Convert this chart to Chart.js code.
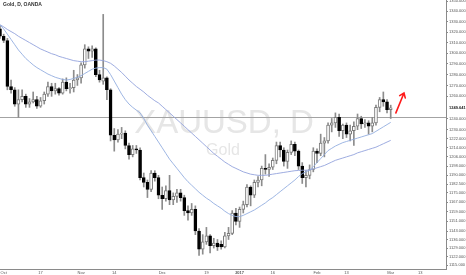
<!DOCTYPE html>
<html>
<head>
<meta charset="utf-8">
<script src="https://cdn.jsdelivr.net/npm/chart.js@4.4.1/dist/chart.umd.min.js"></script>
<style>
  html, body { margin: 0; padding: 0; background: #fff; }
  #wrap { position: relative; width: 466px; height: 275px; }
</style>
</head>
<body>
<div id="wrap"><canvas id="gold"></canvas></div>
<script>
// daily sessions (last ones are empty space on the right of the chart)
const days = [
  'Sep 30',
  'Oct 3', 'Oct 4', 'Oct 5', 'Oct 6', 'Oct 7',
  'Oct 10', 'Oct 11', 'Oct 12', 'Oct 13', 'Oct 14',
  'Oct 17', 'Oct 18', 'Oct 19', 'Oct 20', 'Oct 21',
  'Oct 24', 'Oct 25', 'Oct 26', 'Oct 27', 'Oct 28',
  'Oct 31', 'Nov 1', 'Nov 2', 'Nov 3', 'Nov 4',
  'Nov 7', 'Nov 8', 'Nov 9', 'Nov 10', 'Nov 11',
  'Nov 14', 'Nov 15', 'Nov 16', 'Nov 17', 'Nov 18',
  'Nov 21', 'Nov 22', 'Nov 23', 'Nov 24', 'Nov 25',
  'Nov 28', 'Nov 29', 'Nov 30', 'Dec 1', 'Dec 2',
  'Dec 5', 'Dec 6', 'Dec 7', 'Dec 8', 'Dec 9',
  'Dec 12', 'Dec 13', 'Dec 14', 'Dec 15', 'Dec 16',
  'Dec 19', 'Dec 20', 'Dec 21', 'Dec 22', 'Dec 23',
  'Dec 27', 'Dec 28', 'Dec 29', 'Dec 30',
  'Jan 3', 'Jan 4', 'Jan 5', 'Jan 6',
  'Jan 9', 'Jan 10', 'Jan 11', 'Jan 12', 'Jan 13',
  'Jan 16', 'Jan 17', 'Jan 18', 'Jan 19', 'Jan 20',
  'Jan 23', 'Jan 24', 'Jan 25', 'Jan 26', 'Jan 27',
  'Jan 30', 'Jan 31', 'Feb 1', 'Feb 2', 'Feb 3',
  'Feb 6', 'Feb 7', 'Feb 8', 'Feb 9', 'Feb 10',
  'Feb 13', 'Feb 14', 'Feb 15', 'Feb 16', 'Feb 17',
  'Feb 20', 'Feb 21', 'Feb 22', 'Feb 23', 'Feb 24',
  'Feb 27', 'Feb 28', 'Mar 1', 'Mar 2', 'Mar 3',
  'Mar 6', 'Mar 7', 'Mar 8', 'Mar 9', 'Mar 10',
  'Mar 13', 'Mar 14', 'Mar 15', 'Mar 16', 'Mar 17',
  'Mar 20', 'Mar 21', 'Mar 22'
];

const xTickLabels = {
  'Oct 3': 'Oct', 'Oct 17': '17', 'Nov 1': 'Nov', 'Nov 14': '14',
  'Dec 1': 'Dec', 'Dec 19': '19', 'Jan 3': '2017', 'Jan 16': '16',
  'Feb 1': 'Feb', 'Feb 13': '13', 'Mar 1': 'Mar', 'Mar 13': '13'
};

const yTicks = [1350, 1340, 1330, 1320, 1310, 1300, 1290, 1280, 1270, 1260,
  1240, 1230, 1222, 1214, 1206, 1198, 1190, 1182.5, 1175, 1167,
  1159, 1151, 1143, 1136, 1129, 1122, 1115];

const open = [
  1323, 1316, 1312, 1269, 1266, 1253, 1257, 1260, 1253, 1255,
  1257, 1251, 1256, 1262, 1269, 1265, 1267, 1263, 1273, 1267,
  1268, 1275, 1277, 1289, 1304, 1302, 1304, 1280, 1274, 1277,
  1266, 1225, 1221, 1226, 1227, 1216, 1208, 1213, 1212, 1188,
  1184, 1178, 1192, 1188, 1173, 1170, 1177, 1169, 1172, 1175,
  1171, 1160, 1158, 1161, 1143, 1128, 1134, 1139, 1131, 1133,
  1132, 1130, 1139, 1141, 1158, 1151, 1161, 1165, 1180, 1173,
  1184, 1186, 1196, 1195, 1197, 1203, 1216, 1212, 1202, 1210,
  1217, 1211, 1198, 1188, 1190, 1195, 1211, 1209, 1218, 1220,
  1234, 1236, 1241, 1229, 1234, 1226, 1229, 1233, 1240, 1235,
  1236, 1233, 1236, 1250, 1257, 1255, 1248
];
const high = [
  1326, 1318, 1314, 1275, 1268, 1266, 1266, 1262, 1258, 1264,
  1260, 1259, 1264, 1273, 1272, 1272, 1268, 1276, 1277, 1272,
  1284, 1280, 1291, 1308, 1306, 1307, 1305, 1284, 1337, 1278,
  1267, 1231, 1230, 1232, 1229, 1218, 1216, 1216, 1214, 1192,
  1186, 1194, 1194, 1190, 1180, 1181, 1190, 1175, 1178, 1178,
  1173, 1164, 1166, 1164, 1145, 1140, 1146, 1140, 1137, 1136,
  1135, 1142, 1146, 1160, 1162, 1163, 1168, 1182, 1181, 1186,
  1189, 1198, 1208, 1200, 1205, 1219, 1219, 1214, 1212, 1220,
  1219, 1212, 1201, 1194, 1199, 1214, 1213, 1226, 1223, 1236,
  1240, 1245, 1244, 1235, 1236, 1234, 1237, 1244, 1242, 1239,
  1238, 1241, 1252, 1259, 1264, 1257, 1252
];
const low = [
  1314, 1310, 1266, 1263, 1251, 1241, 1255, 1250, 1250, 1254,
  1249, 1250, 1253, 1260, 1260, 1262, 1261, 1262, 1265, 1263,
  1264, 1270, 1272, 1286, 1295, 1296, 1278, 1273, 1271, 1257,
  1220, 1211, 1219, 1222, 1213, 1204, 1206, 1209, 1186, 1180,
  1171, 1176, 1185, 1170, 1161, 1168, 1165, 1165, 1167, 1168,
  1156, 1152, 1156, 1140, 1123, 1124, 1132, 1125, 1129, 1127,
  1128, 1129, 1136, 1140, 1148, 1146, 1158, 1163, 1164, 1171,
  1180, 1181, 1191, 1189, 1195, 1200, 1206, 1198, 1196, 1208,
  1207, 1195, 1183, 1180, 1187, 1193, 1201, 1207, 1206, 1218,
  1228, 1232, 1224, 1222, 1223, 1220, 1216, 1230, 1231, 1232,
  1226, 1228, 1234, 1246, 1251, 1245, 1240
];
const close = [
  1316, 1312, 1269, 1266, 1253, 1257, 1260, 1253, 1255, 1257,
  1251, 1256, 1262, 1269, 1265, 1267, 1263, 1273, 1267, 1268,
  1275, 1277, 1289, 1304, 1302, 1304, 1280, 1275, 1277, 1266,
  1225, 1221, 1226, 1227, 1216, 1208, 1213, 1212, 1188, 1184,
  1178, 1192, 1188, 1173, 1170, 1177, 1169, 1172, 1175, 1171,
  1160, 1158, 1161, 1143, 1128, 1134, 1139, 1131, 1133, 1130,
  1130, 1139, 1141, 1158, 1151, 1161, 1165, 1180, 1173, 1184,
  1186, 1196, 1195, 1197, 1203, 1216, 1212, 1202, 1210, 1217,
  1211, 1198, 1188, 1190, 1195, 1211, 1209, 1218, 1220, 1234,
  1236, 1241, 1229, 1234, 1226, 1229, 1233, 1240, 1235, 1236,
  1233, 1236, 1250, 1257, 1255, 1248, 1249.641
];

// the two moving averages
const maFast = [
  1327, 1323, 1318, 1313, 1308, 1303, 1299, 1295, 1292, 1289,
  1286.5, 1284.5, 1282.5, 1280.5, 1279, 1277.5, 1276.5, 1275.5, 1275, 1275.5,
  1276.5, 1277.5, 1279, 1281, 1283, 1285, 1286, 1286.5, 1286.5, 1285,
  1280, 1274, 1268, 1262, 1257, 1253, 1250, 1247.5, 1245, 1240,
  1234, 1229, 1224, 1219, 1214, 1209, 1204, 1200, 1196, 1192,
  1188, 1184.5, 1181.5, 1178.5, 1175.5, 1173, 1170.5, 1168.5, 1166, 1164,
  1162, 1159.5, 1157.5, 1156, 1155, 1155, 1156, 1157.5, 1159, 1160.5,
  1162.5, 1164.5, 1166.5, 1169, 1171, 1173.5, 1176, 1178.5, 1181, 1183.5,
  1186, 1189, 1191.5, 1193, 1194.5, 1197.5, 1201, 1204.5, 1208, 1211.5,
  1213.5, 1215.5, 1217, 1218.5, 1219.5, 1220.5, 1221.5, 1222.5, 1223.5, 1224.5,
  1225.5, 1226.5, 1228.5, 1230.5, 1232.5, 1234.5, 1236.5
];
const maSlow = [
  1327, 1325, 1322.5, 1320.5, 1318.5, 1316, 1314, 1312, 1310, 1308,
  1306, 1304, 1302.5, 1301, 1299.5, 1298.5, 1297, 1296, 1295, 1294,
  1293, 1292.5, 1292, 1292, 1292.5, 1293, 1293.5, 1293.5, 1293, 1292,
  1290.5, 1288, 1285, 1282, 1278.5, 1275, 1272, 1269, 1266.5, 1264,
  1261, 1258.5, 1256, 1254, 1251, 1248, 1245, 1242, 1239, 1236,
  1233, 1230, 1227, 1224, 1221, 1218, 1215, 1212, 1209, 1206.5,
  1204, 1201.5, 1199.5, 1197.5, 1196, 1194.5, 1193, 1192, 1191, 1190.5,
  1190, 1190, 1190, 1190.5, 1191, 1191.5, 1192, 1192.5, 1193, 1193.5,
  1194, 1194.2, 1194.4, 1194.4, 1194.6, 1195.5, 1196.5, 1197.5, 1198.5, 1200,
  1201.5, 1203, 1204, 1205, 1206, 1207, 1208, 1209.5, 1210.5, 1211.5,
  1212.5, 1213.5, 1214.5, 1216, 1217.5, 1219, 1220.5
];

const supportLevel = 1241;
const arrowFrom = [107.4, 1245];   // [session index, price]
const arrowTo = [109.6, 1263];

const FONT = '"Liberation Sans", Arial, sans-serif';
const isUp = i => close[i] >= open[i];

const overlay = {
  id: 'overlay',
  beforeDatasetsDraw(chart) {
    const { ctx, chartArea: a } = chart;
    const y = chart.scales.y.getPixelForValue(supportLevel);
    ctx.save();
    // watermark
    ctx.fillStyle = '#e6e6e6';
    ctx.textAlign = 'center';
    ctx.textBaseline = 'middle';
    ctx.font = '33px ' + FONT;
    ctx.fillText('XAUUSD, D', a.left + 224, a.top + 124);
    ctx.font = '16px ' + FONT;
    ctx.fillText('Gold', a.left + 223, a.top + 151);
    // horizontal level
    ctx.strokeStyle = '#a3a3a3';
    ctx.lineWidth = 1;
    ctx.beginPath();
    ctx.moveTo(a.left, Math.round(y) + 0.5);
    ctx.lineTo(a.right, Math.round(y) + 0.5);
    ctx.stroke();
    ctx.restore();
  },
  afterDraw(chart) {
    const { ctx, chartArea: a } = chart;
    const sx = chart.scales.x, sy = chart.scales.y;
    ctx.save();
    // title
    ctx.fillStyle = '#333';
    ctx.font = 'bold 5px ' + FONT;
    ctx.textAlign = 'left';
    ctx.textBaseline = 'middle';
    ctx.fillText('Gold, D, OANDA', 3, 5);

    // red arrow
    const x1 = sx.getPixelForValue(arrowFrom[0]), y1 = sy.getPixelForValue(arrowFrom[1]);
    const x2 = sx.getPixelForValue(arrowTo[0]), y2 = sy.getPixelForValue(arrowTo[1]);
    const ang = Math.atan2(y2 - y1, x2 - x1);
    ctx.strokeStyle = '#ff1a1a';
    ctx.lineWidth = 1.6;
    ctx.lineCap = 'round';
    ctx.beginPath();
    ctx.moveTo(x1, y1);
    ctx.lineTo(x2, y2);
    ctx.moveTo(x2 + 5 * Math.cos(ang + 2.5), y2 + 5 * Math.sin(ang + 2.5));
    ctx.lineTo(x2, y2);
    ctx.lineTo(x2 + 5 * Math.cos(ang - 2.5), y2 + 5 * Math.sin(ang - 2.5));
    ctx.stroke();

    // last price label
    const last = close[close.length - 1];
    const yl = sy.getPixelForValue(last);
    ctx.fillStyle = '#fff';
    ctx.fillRect(a.right + 1, yl - 3, 19, 6);
    ctx.fillStyle = '#222';
    ctx.font = 'bold 4px ' + FONT;
    ctx.fillText(last.toFixed(3), a.right + 3, yl);
    ctx.restore();
  }
};

new Chart(document.getElementById('gold'), {
  type: 'bar',
  data: {
    labels: days,
    datasets: [
      {
        type: 'line',
        data: maFast,
        borderColor: '#93aee0',
        borderWidth: 0.9,
        pointRadius: 0,
        order: 0
      },
      {
        type: 'line',
        data: maSlow,
        borderColor: '#93a3dc',
        borderWidth: 0.9,
        pointRadius: 0,
        order: 0
      },
      {
        // bodies
        data: open.map((o, i) => [o, close[i]]),
        backgroundColor: c => isUp(c.dataIndex) ? '#ffffff' : '#000000',
        borderColor: c => isUp(c.dataIndex) ? '#7a7a7a' : '#000000',
        borderWidth: 1,
        borderSkipped: false,
        barThickness: 3,
        minBarLength: 1,
        grouped: false,
        order: 1
      },
      {
        // wicks
        data: low.map((l, i) => [l, high[i]]),
        backgroundColor: '#8c8c8c',
        barThickness: 1,
        grouped: false,
        order: 2
      }
    ]
  },
  options: {
    responsive: true,
    maintainAspectRatio: false,
    animation: false,
    layout: { padding: 0 },
    plugins: {
      legend: { display: false },
      tooltip: { enabled: false }
    },
    scales: {
      x: {
        type: 'category',
        offset: false,
        grid: { drawOnChartArea: false, drawTicks: false },
        border: { color: '#8a8a8a' },
        ticks: {
          autoSkip: false,
          maxRotation: 0,
          padding: 1,
          color: '#555',
          font: c => ({ size: 4, family: FONT, weight: xTickLabels[days[c.index]] === '2017' ? 'bold' : 'normal' }),
          callback: (v, i) => xTickLabels[days[i]] || ''
        },
        afterFit: s => { s.height = 6; s.paddingLeft = 0; s.paddingRight = 0; }
      },
      y: {
        type: 'logarithmic',
        position: 'right',
        min: 1112,
        max: 1351,
        grid: { drawOnChartArea: false, tickLength: 2, color: '#8a8a8a' },
        border: { color: '#8a8a8a' },
        ticks: {
          autoSkip: false,
          padding: 1,
          color: '#555',
          font: { size: 4, family: FONT },
          callback: v => Number(v).toFixed(3)
        },
        afterBuildTicks: s => { s.ticks = yTicks.map(v => ({ value: v })); },
        afterFit: s => { s.width = 20; s.paddingTop = 0; s.paddingBottom = 0; }
      }
    }
  },
  plugins: [overlay]
});
</script>
</body>
</html>
